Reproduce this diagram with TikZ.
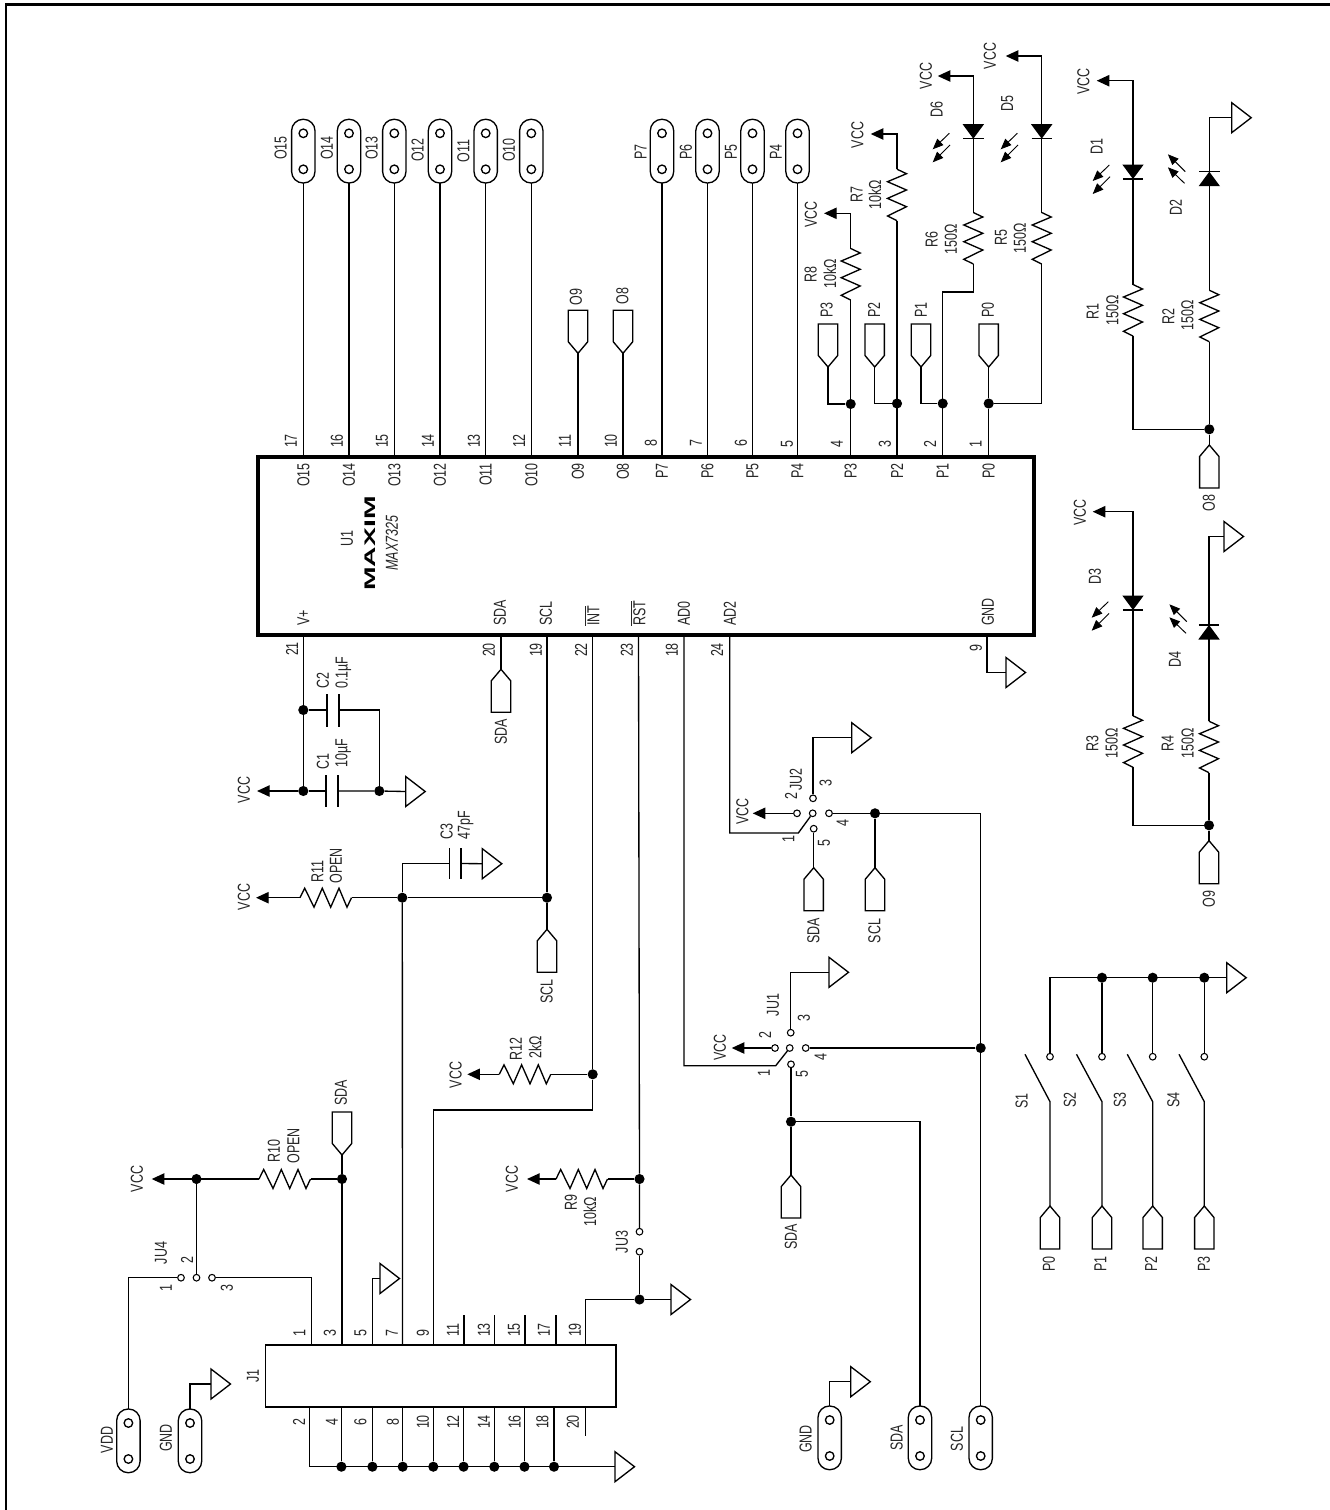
\documentclass[tikz,border=0pt]{standalone}
\usepackage{fontspec}
\usepackage{tikz}
\usetikzlibrary{arrows.meta}

\newfontfamily\lblfont[FakeStretch=.72,ItalicFont={Liberation Sans Italic}]{Liberation Sans}
\newfontfamily\logofont[FakeStretch=1.85]{Liberation Sans}

\tikzset{
  wire/.style={line width=1pt},
  toVcc/.style={-{Triangle[length=9.5pt,width=8.5pt]}},
  lbl/.style={rotate=90,inner sep=0pt,text=black!85,font=\lblfont\fontsize{13}{13}\selectfont},
  dot/.style={circle,fill=black,inner sep=0pt,minimum size=7.6pt},
  term/.style={circle,draw,fill=white,line width=.8pt,inner sep=0pt,minimum size=5pt},
  ichip/.style={draw,line width=2.5pt,inner sep=0pt,minimum width=582pt,minimum height=133.5pt},
  hdr/.style={draw,line width=1pt,inner sep=0pt,minimum width=262.8pt,minimum height=46.5pt},
  res/.pic={\draw[wire] (0,0)--(4.7,-9.5)--(14,9.5)--(22.3,-9.5)--(30.7,9.5)--(39,-9.5)--(47,9.5)--(51.5,0);
    \coordinate (-a) at (0,0); \coordinate (-b) at (51.5,0);},
  gnd/.pic={\draw[wire] (0,-15)--(19.5,0)--(0,15)--cycle; \coordinate (-t) at (0,0);},
  port/.pic={\draw[wire] (0,0)--(9.7,11.5)--(9.7,43)--(-9.7,43)--(-9.7,11.5)--cycle; \coordinate (-t) at (0,0);},
  jack/.pic={\draw[wire,rounded corners=8.6pt] (-11.7,0) rectangle (11.7,63.7);
    \draw[wire] (0,14) circle (3.2pt); \draw[wire] (0,50) circle (3.2pt);
    \coordinate (-t) at (0,0); \coordinate (-b) at (0,63.7);},
  led/.pic={\fill (-10.7,-14.5)--(10.7,-14.5)--(0,0)--cycle; \draw[wire] (-10.2,0)--(10.2,0);},
  rays/.pic={\draw[line width=.7pt,-{Triangle[length=8pt,width=6.5pt]}] (0,0)--(-16.6,16);
    \draw[line width=.7pt,-{Triangle[length=8pt,width=6.5pt]}] (.7,11.7)--(-16.6,29);},
}

\begin{document}
\begin{tikzpicture}[x=.75pt,y=-.75pt]
\useasboundingbox (0,0) rectangle (1330,1510);
\draw[line width=1.9pt] (6,1510)--(6,4.5)--(1330,4.5);

% U1
\node[ichip] (U1) at (646,546) {};
\coordinate (p17) at (303.3,457); \coordinate (p16) at (349,457); \coordinate (p15) at (394.3,457);
\coordinate (p14) at (440,457); \coordinate (p13) at (485.7,457); \coordinate (p12) at (531.3,457);
\coordinate (p11) at (578,457); \coordinate (p10) at (623,457); \coordinate (p8) at (662,457);
\coordinate (p7) at (707.5,457); \coordinate (p6) at (752.5,457); \coordinate (p5) at (797.5,457);
\coordinate (p4) at (850.7,457); \coordinate (p3) at (897,457); \coordinate (p2) at (942.7,457);
\coordinate (p1) at (988.7,457);
\coordinate (p21) at (303.3,635); \coordinate (p20) at (501,635); \coordinate (p19) at (547,635);
\coordinate (p22) at (592.7,635); \coordinate (p23) at (638.5,635); \coordinate (p18) at (684,635);
\coordinate (p24) at (729.7,635); \coordinate (p9) at (987,635);

\node[lbl] (nU1) at (347,539) {U1};
\node[rotate=90,inner sep=0pt,font=\logofont\bfseries\fontsize{11.5}{11.5}\selectfont] (nLogo) at (370,543.5) {MAXIM};
\node[lbl] (nMax) at (392,543) {\itshape MAX7325};

\node[lbl,anchor=east] (tO15) at (303.3,463) {O15};
\node[lbl,anchor=east] (tO14) at (349,463) {O14};
\node[lbl,anchor=east] (tO13) at (394.3,463) {O13};
\node[lbl,anchor=east] (tO12) at (440,463) {O12};
\node[lbl,anchor=east] (tO11) at (485.7,463) {O11};
\node[lbl,anchor=east] (tO10) at (531.3,463) {O10};
\node[lbl,anchor=east] (tO9) at (578,463) {O9};
\node[lbl,anchor=east] (tO8) at (623,463) {O8};
\node[lbl,anchor=east] (tP7) at (662,463) {P7};
\node[lbl,anchor=east] (tP6) at (707.5,463) {P6};
\node[lbl,anchor=east] (tP5) at (752.5,463) {P5};
\node[lbl,anchor=east] (tP4) at (797.5,463) {P4};
\node[lbl,anchor=east] (tP3) at (850.7,463) {P3};
\node[lbl,anchor=east] (tP2) at (897,463) {P2};
\node[lbl,anchor=east] (tP1) at (942.7,463) {P1};
\node[lbl,anchor=east] (tP0) at (988.7,463) {P0};
\node[lbl,anchor=west] (tV) at (303.3,626) {V+};
\node[lbl,anchor=west] (tSDA) at (500,626) {SDA};
\node[lbl,anchor=west] (tSCL) at (546,626) {SCL};
\node[lbl,anchor=west] (tINT) at (592,626) {$\overline{\mbox{INT}}$};
\node[lbl,anchor=west] (tRST) at (638,626) {$\overline{\mbox{RST}}$};
\node[lbl,anchor=west] (tAD0) at (684,626) {AD0};
\node[lbl,anchor=west] (tAD2) at (729.7,626) {AD2};
\node[lbl,anchor=west] (tGND) at (988,626) {GND};

\node[lbl] (n17) at (291,441) {17};
\node[lbl] (n16) at (337,441) {16};
\node[lbl] (n15) at (382,441) {15};
\node[lbl] (n14) at (428,441) {14};
\node[lbl] (n13) at (474,441) {13};
\node[lbl] (n12) at (519,441) {12};
\node[lbl] (n11) at (565,441) {11};
\node[lbl] (n10) at (611,441) {10};
\node[lbl] (n8) at (651,443) {8};
\node[lbl] (n7) at (696,443) {7};
\node[lbl] (n6) at (741,443) {6};
\node[lbl] (n5) at (787,444) {5};
\node[lbl] (n4) at (837,444) {4};
\node[lbl] (n3) at (885,444) {3};
\node[lbl] (n2) at (930,444) {2};
\node[lbl] (n1) at (975.7,444) {1};
\node[lbl] (n21) at (292,649) {21};
\node[lbl] (n20) at (489,650) {20};
\node[lbl] (n19) at (536,650) {19};
\node[lbl] (n22) at (581,650) {22};
\node[lbl] (n23) at (627,650) {23};
\node[lbl] (n18) at (672,650) {18};
\node[lbl] (n24) at (717,650) {24};
\node[lbl] (n9) at (976,648) {9};

% headers along the top
\pic (hO15) at (303.3,119.3) {jack}; \node[lbl] (nO15) at (280.7,148) {O15}; \draw[wire] (p17)--(hO15-b);
\pic (hO14) at (349,119.3) {jack}; \node[lbl] (nO14) at (327,148) {O14}; \draw[wire] (p16)--(hO14-b);
\pic (hO13) at (394.3,119.3) {jack}; \node[lbl] (nO13) at (371.7,148) {O13}; \draw[wire] (p15)--(hO13-b);
\pic (hO12) at (440,119.3) {jack}; \node[lbl] (nO12) at (417.7,150) {O12}; \draw[wire] (p14)--(hO12-b);
\pic (hO11) at (485.7,119.3) {jack}; \node[lbl] (nO11) at (463.3,151) {O11}; \draw[wire] (p13)--(hO11-b);
\pic (hO10) at (531.3,119.3) {jack}; \node[lbl] (nO10) at (509,150) {O10}; \draw[wire] (p12)--(hO10-b);
\pic (hP7) at (662,119.3) {jack}; \node[lbl] (nP7) at (640.7,151.7) {P7}; \draw[wire] (p8)--(hP7-b);
\pic (hP6) at (707.5,119.3) {jack}; \node[lbl] (nP6) at (686,151.7) {P6}; \draw[wire] (p7)--(hP6-b);
\pic (hP5) at (752.5,119.3) {jack}; \node[lbl] (nP5) at (731,151.7) {P5}; \draw[wire] (p6)--(hP5-b);
\pic (hP4) at (797.5,119.3) {jack}; \node[lbl] (nP4) at (776,151.7) {P4}; \draw[wire] (p5)--(hP4-b);

\pic[yscale=-1] (xO9) at (578,353.3) {port}; \node[lbl] (nxO9) at (576,296.7) {O9}; \draw[wire] (p11)--(xO9-t);
\pic[yscale=-1] (xO8) at (623,353.3) {port}; \node[lbl] (nxO8) at (622.3,295.7) {O8}; \draw[wire] (p10)--(xO8-t);

% pull-ups and leds on P0-P3
\node[dot] (jP3) at (850.7,404) {};
\node[dot] (jP2) at (897,403.5) {};
\node[dot] (jP1) at (942.7,403.5) {};
\node[dot] (jP0) at (988.7,403.5) {};
\pic[yscale=-1] (xP3) at (828,367) {port}; \node[lbl] (nxP3) at (826.7,310) {P3};
\pic[yscale=-1] (xP2) at (874.7,367) {port}; \node[lbl] (nxP2) at (874,310) {P2};
\pic[yscale=-1] (xP1) at (921,367) {port}; \node[lbl] (nxP1) at (921,310) {P1};
\pic[yscale=-1] (xP0) at (988.7,367) {port}; \node[lbl] (nxP0) at (988,310) {P0};
\draw[wire] (xP3-t) |- (jP3);
\draw[wire] (xP2-t) |- (jP2);
\draw[wire] (xP1-t) |- (jP1);
\draw[wire] (xP0-t) -- (jP0);

\pic[rotate=90] (r8) at (850.7,300) {res};
\pic[rotate=90] (r7) at (897,220.7) {res};
\pic[rotate=90] (r6) at (973.3,264) {res};
\pic[rotate=90] (r5) at (1041.7,264) {res};
\coordinate (v8) at (824,213.3);
\coordinate (v7) at (870.7,134);
\coordinate (v6) at (937.7,76);
\coordinate (v5) at (1005.7,56);
\coordinate (c6) at (973.3,292);
\draw[wire] (p4)--(r8-a);
\draw[wire] (p3)--(r7-a);
\draw[wire] (p2) |- (c6) -- (r6-a);
\draw[wire] (p1)--(jP0) -| (r5-a);
\draw[wire,toVcc] (r8-b) |- (v8);
\draw[wire,toVcc] (r7-b) |- (v7);
\draw[wire,toVcc] (r6-b) |- (v6);
\draw[wire,toVcc] (r5-b) |- (v5);
\pic at (973.3,138.7) {led}; \pic at (949.3,133.3) {rays};
\pic at (1041.7,138.7) {led}; \pic at (1017.3,133.3) {rays};

\node[lbl] (nv8) at (811,214.3) {VCC};
\node[lbl] (nv7) at (857.3,135) {VCC};
\node[lbl] (nv6) at (926,76) {VCC};
\node[lbl] (nv5) at (990,56) {VCC};
\node[lbl] (nR8) at (810.7,275) {R8};
\node[lbl] (vR8) at (830,274) {10kΩ};
\node[lbl] (nR7) at (856.7,195) {R7};
\node[lbl] (vR7) at (875,195) {10kΩ};
\node[lbl] (nR6) at (931.7,239.3) {R6};
\node[lbl] (vR6) at (951,239.3) {150Ω};
\node[lbl] (nR5) at (1001,238) {R5};
\node[lbl] (vR5) at (1020,238) {150Ω};
\node[lbl] (nD6) at (936.7,109.3) {D6};
\node[lbl] (nD5) at (1007.3,104) {D5};

% D1 D2
\pic[rotate=90] (r1) at (1133,336) {res};
\pic[rotate=90] (r2) at (1209.3,341.7) {res};
\node[dot] (jO8) at (1209.3,429.3) {};
\pic (xrO8) at (1209.3,445) {port}; \node[lbl] (nxrO8) at (1209,503) {O8};
\coordinate (v1) at (1096.7,80.7);
\pic (g2) at (1231.7,117.7) {gnd};
\draw[wire,toVcc] (r1-b) |- (v1);
\draw[wire] (r1-a) |- (jO8);
\draw[wire] (xrO8-t)--(jO8)--(r2-a);
\draw[wire] (r2-b) |- (g2-t);
\pic at (1133,179) {led}; \pic at (1109.3,165) {rays};
\pic[yscale=-1] at (1209.3,171.7) {led}; \pic[yscale=-1] at (1184.5,183.3) {rays};
\node[lbl] (nv1) at (1083.3,81.7) {VCC};
\node[lbl] (nD1) at (1096.7,146.7) {D1};
\node[lbl] (nD2) at (1175.7,207.3) {D2};
\node[lbl] (nR1) at (1092.7,311.7) {R1};
\node[lbl] (vR1) at (1112.3,310) {150Ω};
\node[lbl] (nR2) at (1168.3,316.7) {R2};
\node[lbl] (vR2) at (1187.3,315.7) {150Ω};

% D3 D4
\pic[rotate=90] (r3) at (1133,767.3) {res};
\pic[rotate=90] (r4) at (1209,772.7) {res};
\node[dot] (jO9) at (1209,825.3) {};
\pic (xrO9) at (1209,840.7) {port}; \node[lbl] (nxrO9) at (1209,899.3) {O9};
\coordinate (v3) at (1092.7,511.7);
\pic (g4) at (1224,536.5) {gnd};
\draw[wire,toVcc] (r3-b) |- (v3);
\draw[wire] (r3-a) |- (jO9);
\draw[wire] (xrO9-t)--(jO9)--(r4-a);
\draw[wire] (r4-b) |- (g4-t);
\pic at (1133,610) {led}; \pic at (1108.3,601.7) {rays};
\pic[yscale=-1] at (1209,625) {led}; \pic[yscale=-1] at (1186,633.3) {rays};
\node[lbl] (nv3) at (1080,512.7) {VCC};
\node[lbl] (nD3) at (1095,576.7) {D3};
\node[lbl] (nD4) at (1175,660) {D4};
\node[lbl] (nR3) at (1092.3,743.3) {R3};
\node[lbl] (vR3) at (1111.7,743.3) {150Ω};
\node[lbl] (nR4) at (1167.7,743.3) {R4};
\node[lbl] (vR4) at (1187.7,743.3) {150Ω};

% GND and SDA of U1
\pic (g9) at (1006,672.5) {gnd};
\draw[wire] (p9) |- (g9-t);
\pic (xSDA) at (501,669.3) {port}; \node[lbl] (nxSDA) at (501,731.7) {SDA};
\draw[wire] (p20)--(xSDA-t);

% C1 C2
\node[dot] (jC2) at (303.3,710) {};
\node[dot] (jC1) at (303.3,791) {};
\node[dot] (jC1b) at (379.3,791) {};
\coordinate (v21) at (257,791);
\pic (g21) at (405.7,791.5) {gnd};
\draw[wire] (p21)--(jC2)--(jC1);
\draw[wire,toVcc] (jC1)--(v21);
\draw[wire] (jC2)--(327,710);
\draw[wire] (327,694)--(327,726.7);
\draw[wire] (339,694)--(339,726.7);
\draw[wire] (339,710)-|(jC1b);
\draw[wire] (jC1)--(326,791);
\draw[wire] (326,775)--(326,806.7);
\draw[wire] (338,775)--(338,806.7);
\draw[wire] (338,791)--(jC1b)--(g21-t);
\node[lbl] (nv21) at (244,790) {VCC};
\node[lbl] (nC2) at (323,680.7) {C2};
\node[lbl] (vC2) at (343.3,672.7) {0.1\textmu F};
\node[lbl] (nC1) at (323,761.7) {C1};
\node[lbl] (vC1) at (343,753) {10\textmu F};

% R11 C3
\node[dot] (jR11) at (402.3,897.7) {};
\node[dot] (jSCL) at (547,897.7) {};
\pic (r11) at (300,897.7) {res};
\coordinate (v11) at (256,897.7);
\pic (g3) at (482.3,863.7) {gnd};
\pic (xSCL) at (547,929.3) {port}; \node[lbl] (nxSCL) at (546.7,991.7) {SCL};
\draw[wire,toVcc] (r11-a)--(v11);
\draw[wire] (r11-b)--(jR11)--(jSCL);
\draw[wire] (p19)--(jSCL)--(xSCL-t);
\draw[wire] (jR11) |- (449.7,863.5);
\draw[wire] (449.7,848.3)--(449.7,879.3);
\draw[wire] (461,848.3)--(461,879.3);
\draw[wire] (461,863.5)--(g3-t);
\node[lbl] (nv11) at (244,897) {VCC};
\node[lbl] (nR11) at (317.3,871.7) {R11};
\node[lbl] (vR11) at (336,866) {OPEN};
\node[lbl] (nC3) at (446.7,831.7) {C3};
\node[lbl] (vC3) at (465.7,825) {47pF};

% R12 R9 JU3
\node[dot] (jINT) at (592.7,1074.3) {};
\pic (r12) at (499.3,1074.3) {res};
\coordinate (v12) at (467.3,1074.3);
\draw[wire,toVcc] (r12-a)--(v12);
\draw[wire] (r12-b)--(jINT);
\node[lbl] (nv12) at (455.7,1075) {VCC};
\node[lbl] (nR12) at (515.7,1049) {R12};
\node[lbl] (vR12) at (535,1047.3) {2kΩ};

\node[dot] (jRST) at (639.5,1179) {};
\node[term] (ju3a) at (639.5,1231.7) {};
\node[term] (ju3b) at (639.5,1251.7) {};
\node[dot] (jJ19) at (639.5,1299.5) {};
\pic (r9) at (556,1179) {res};
\coordinate (v9) at (527,1179);
\pic (g19) at (671,1299.5) {gnd};
\draw[wire,toVcc] (r9-a)--(v9);
\draw[wire] (r9-b)--(jRST);
\draw[wire] (p23)--(jRST)--(ju3a);
\draw[wire] (ju3b)--(jJ19);
\node[lbl] (nv9) at (512,1179) {VCC};
\node[lbl] (nR9) at (571,1203) {R9};
\node[lbl] (vR9) at (590,1212) {10kΩ};
\node[lbl] (nJU3) at (622,1242) {JU3};

% J1
\node[hdr] (J1) at (440.8,1376) {};
\node[lbl] (nJ1) at (253,1376) {J1};
\coordinate (a1) at (311.5,1345); \coordinate (a3) at (342,1345); \coordinate (a5) at (372.4,1345);
\coordinate (a7) at (402.5,1345); \coordinate (a9) at (433.3,1345); \coordinate (a11) at (464,1345);
\coordinate (a13) at (494.6,1345); \coordinate (a15) at (525,1345); \coordinate (a17) at (556,1345);
\coordinate (a19) at (585.4,1345);
\coordinate (a2) at (309.6,1407); \coordinate (a20) at (585.4,1407);
\node[lbl] (na1) at (299.5,1333) {1};
\node[lbl] (na3) at (330,1333) {3};
\node[lbl] (na5) at (360.5,1333) {5};
\node[lbl] (na7) at (392,1333) {7};
\node[lbl] (na9) at (423,1333) {9};
\node[lbl] (na11) at (453,1330) {11};
\node[lbl] (na13) at (484,1330) {13};
\node[lbl] (na15) at (514,1330) {15};
\node[lbl] (na17) at (544,1330) {17};
\node[lbl] (na19) at (575,1330) {19};
\node[lbl] (na2) at (299,1422) {2};
\node[lbl] (na4) at (332,1422) {4};
\node[lbl] (na6) at (360.5,1422) {6};
\node[lbl] (na8) at (393,1422) {8};
\node[lbl] (na10) at (423,1422) {10};
\node[lbl] (na12) at (453,1422) {12};
\node[lbl] (na14) at (484,1422) {14};
\node[lbl] (na16) at (514.6,1422) {16};
\node[lbl] (na18) at (542.5,1422) {18};
\node[lbl] (na20) at (573,1422) {20};

\draw[wire] (a11)--(464,1315);
\draw[wire] (a13)--(494.6,1315);
\draw[wire] (a15)--(525,1315);
\draw[wire] (a17)--(556,1315);
\draw[wire] (a20)--(585.4,1436);
\draw[wire] (a19) |- (jJ19)--(g19-t);

\node[dot] (b4) at (341.4,1466.7) {};
\node[dot] (b6) at (372.4,1466.7) {};
\node[dot] (b8) at (402.7,1466.7) {};
\node[dot] (b10) at (433.3,1466.7) {};
\node[dot] (b12) at (463.6,1466.7) {};
\node[dot] (b14) at (494.3,1466.7) {};
\node[dot] (b16) at (524.5,1466.7) {};
\node[dot] (b18) at (554,1466.7) {};
\pic (gb) at (615,1466.7) {gnd};
\draw[wire] (a2) |- (gb-t);
\draw[wire] (341.4,1407)--(b4);
\draw[wire] (372.4,1407)--(b6);
\draw[wire] (402.7,1407)--(b8);
\draw[wire] (433.3,1407)--(b10);
\draw[wire] (463.6,1407)--(b12);
\draw[wire] (494.3,1407)--(b14);
\draw[wire] (524.5,1407)--(b16);
\draw[wire] (554,1407)--(b18);

\pic (g5) at (380,1278.5) {gnd};
\draw[wire] (a5) |- (g5-t);
\draw[wire] (a7)--(jR11);
\draw[wire] (a9) |- (592.7,1110) -- (jINT)--(p22);

% JU4 R10
\node[dot] (jVJ4) at (196.5,1179) {};
\node[dot] (jSDA) at (342,1179) {};
\node[term] (ju4a) at (181,1277.7) {};
\node[term] (ju4b) at (196.5,1277.7) {};
\node[term] (ju4c) at (212,1277.7) {};
\pic (r10) at (259,1179) {res};
\coordinate (v10) at (151.7,1179);
\pic[yscale=-1] (xJ3) at (342,1155) {port}; \node[lbl] (nxJ3) at (341,1093) {SDA};
\pic (hVDD) at (128.4,1409) {jack}; \node[lbl] (nVDD) at (107,1440) {VDD};
\pic (hGND) at (190,1409) {jack}; \node[lbl] (nGND) at (166,1438) {GND};
\pic (gj) at (211,1384) {gnd};
\draw[wire,toVcc] (r10-a)--(v10);
\draw[wire] (r10-b)--(jSDA);
\draw[wire] (jVJ4)--(ju4b);
\draw[wire] (ju4a) -| (hVDD-t);
\draw[wire] (ju4c) -| (a1);
\draw[wire] (xJ3-t)--(jSDA)--(a3);
\draw[wire] (hGND-t) |- (gj-t);
\node[lbl] (nv10) at (137,1179) {VCC};
\node[lbl] (nR10) at (274,1151) {R10};
\node[lbl] (vR10) at (293.5,1146) {OPEN};
\node[lbl] (nJU4) at (161,1253) {JU4};
\node[lbl] (nj42) at (187,1260) {2};
\node[lbl] (nj41) at (166,1288) {1};
\node[lbl] (nj43) at (227,1288) {3};

% JU2
\node[term] (ju2c) at (812.7,813.3) {};
\node[term] (ju2n2) at (797,813.3) {};
\node[term] (ju2n4) at (829,813.3) {};
\node[term] (ju2n3) at (813,798.3) {};
\node[term] (ju2n5) at (813.7,828.7) {};
\node[dot] (jJU2) at (875,813.3) {};
\node[dot] (jJU1) at (980.7,1048) {};
\coordinate (d2) at (798.3,833);
\coordinate (v2) at (752.7,813.3);
\pic (g2j) at (851.7,737.7) {gnd};
\pic (xu2a) at (813.7,867.7) {port}; \node[lbl] (nxu2a) at (813.3,931) {SDA};
\pic (xu2b) at (875,867.7) {port}; \node[lbl] (nxu2b) at (874.3,931) {SCL};
\draw[wire] (p24) |- (d2)--(ju2c);
\draw[wire,toVcc] (ju2n2)--(v2);
\draw[wire] (ju2n3) |- (g2j-t);
\draw[wire] (ju2n5)--(xu2a-t);
\draw[wire] (ju2n4)--(jJU2)--(xu2b-t);
\draw[wire] (jJU2) -| (jJU1);
\node[lbl] (nv2) at (742.3,811.7) {VCC};
\node[lbl] (nJU2) at (796,779.3) {JU2};
\node[lbl] (n22j) at (791,795.7) {2};
\node[lbl] (n23j) at (825.7,783.3) {3};
\node[lbl] (n24j) at (842.7,822.7) {4};
\node[lbl] (n21j) at (788.3,839) {1};
\node[lbl] (n25j) at (824,842.7) {5};

% JU1
\node[term] (ju1c) at (789.7,1048) {};
\node[term] (ju1n2) at (775,1048) {};
\node[term] (ju1n4) at (805.7,1048) {};
\node[term] (ju1n3) at (790.7,1032.7) {};
\node[term] (ju1n5) at (791,1064.3) {};
\node[dot] (jSDA1) at (791,1121.7) {};
\coordinate (d1) at (775.7,1065.7);
\coordinate (v1j) at (731.7,1048);
\pic (g1j) at (829,972.3) {gnd};
\pic (xu1) at (791,1175) {port}; \node[lbl] (nxu1) at (791,1237) {SDA};
\pic (hSDA) at (920,1406) {jack}; \node[lbl] (nhSDA) at (896.6,1438) {SDA};
\pic (hSCL) at (980.7,1406) {jack}; \node[lbl] (nhSCL) at (957,1439) {SCL};
\pic (hG) at (829.7,1406) {jack}; \node[lbl] (nhG) at (805.6,1439) {GND};
\pic (gG) at (850.8,1381.7) {gnd};
\draw[wire] (p18) |- (d1)--(ju1c);
\draw[wire,toVcc] (ju1n2)--(v1j);
\draw[wire] (ju1n3) |- (g1j-t);
\draw[wire] (ju1n4)--(jJU1)--(hSCL-t);
\draw[wire] (ju1n5)--(jSDA1)--(xu1-t);
\draw[wire] (jSDA1) -| (hSDA-t);
\draw[wire] (hG-t) |- (gG-t);
\node[lbl] (nv1j) at (720,1047.7) {VCC};
\node[lbl] (nJU1) at (773,1005) {JU1};
\node[lbl] (n12j) at (765,1035) {2};
\node[lbl] (n13j) at (804,1017.7) {3};
\node[lbl] (n14j) at (820.7,1056.7) {4};
\node[lbl] (n11j) at (764,1073.3) {1};
\node[lbl] (n15j) at (802,1074) {5};

% switches
\node[term] (tS1) at (1050,1056.7) {};
\node[term] (tS2) at (1102,1056.7) {};
\node[term] (tS3) at (1152.7,1056.7) {};
\node[term] (tS4) at (1204.3,1056.7) {};
\node[dot] (jS2) at (1102,977.7) {};
\node[dot] (jS3) at (1152.7,977.7) {};
\node[dot] (jS4) at (1204.3,977.7) {};
\pic (gS) at (1226.7,977.7) {gnd};
\draw[wire] (tS1) |- (gS-t);
\draw[wire] (tS2)--(jS2);
\draw[wire] (tS3)--(jS3);
\draw[wire] (tS4)--(jS4);
\pic (xS1) at (1050,1206) {port}; \node[lbl] (nxS1) at (1049,1264) {P0};
\pic (xS2) at (1102,1206) {port}; \node[lbl] (nxS2) at (1100.5,1264) {P1};
\pic (xS3) at (1152.7,1206) {port}; \node[lbl] (nxS3) at (1151,1264) {P2};
\pic (xS4) at (1204.3,1206) {port}; \node[lbl] (nxS4) at (1204,1264) {P3};
\draw[wire] (xS1-t)--(1050,1101.7)--(1025,1054.3);
\draw[wire] (xS2-t)--(1102,1101.7)--(1076.5,1054.3);
\draw[wire] (xS3-t)--(1152.7,1101.7)--(1127.3,1054.3);
\draw[wire] (xS4-t)--(1204.3,1101.7)--(1179,1054.3);
\node[lbl] (nS1) at (1021.7,1100.7) {S1};
\node[lbl] (nS2) at (1070,1100) {S2};
\node[lbl] (nS3) at (1120,1100) {S3};
\node[lbl] (nS4) at (1173.3,1100) {S4};

\end{tikzpicture}
\end{document}
